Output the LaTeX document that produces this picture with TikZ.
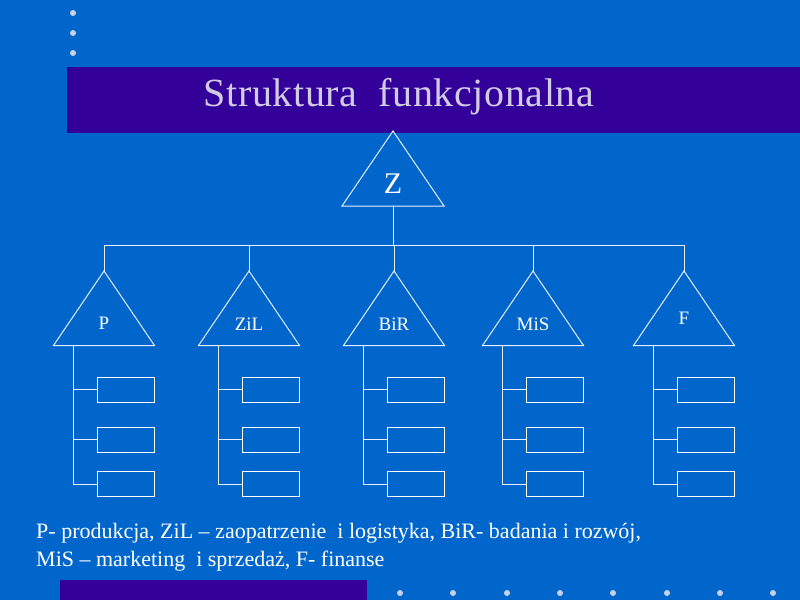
\documentclass[tikz,border=0pt]{standalone}
\usepackage{fontspec}
\setmainfont{Liberation Serif}
\newfontfamily\titlefont[LetterSpace=1.5]{Liberation Serif}
\definecolor{bg}{HTML}{0066CC}
\definecolor{bar}{HTML}{330099}
\definecolor{ttl}{HTML}{D0CCE4}
\definecolor{dotc}{HTML}{C8D2E6}
\definecolor{ln}{HTML}{E6EEFF}
\tikzset{
  tri/.style={draw=ln, line width=1pt, line join=miter},
  conn/.style={draw=ln, line width=1pt},
  subbox/.style={draw=white, line width=1pt, minimum width=57pt, minimum height=25pt, inner sep=0pt},
  lbl/.style={anchor=base, text=white, inner sep=0pt, font=\fontsize{19}{22}\selectfont},
  legendtxt/.style={anchor=base west, text=white, inner sep=0pt, font=\fontsize{22}{28}\selectfont},
  dotmark/.style={fill=dotc}
}
\begin{document}
\begin{tikzpicture}[x=1pt,y=-1pt]
\fill[bg] (0,0) rectangle (800,600);
\useasboundingbox (0,0) rectangle (800,600);
% bars
\fill[bar] (67,67) rectangle (800,133);
\fill[bar] (60,580) rectangle (367,600);
% dots
\foreach \y in {13,33,53} \fill[dotmark] (73,\y) circle (3);
\foreach \x in {400,453,507,560,613,667,720,773} \fill[dotmark] (\x,593) circle (3);
% title
\node[anchor=base, text=ttl, inner sep=0pt, font=\titlefont\fontsize{40}{44}\selectfont] (title) at (399,106) {Struktura\ \ funkcjonalna};
% top triangle Z
\draw[tri] (393,131) -- (444,206) -- (342,206) -- cycle;
\node[anchor=base, text=white, inner sep=0pt, font=\fontsize{30}{34}\selectfont] (Z) at (393,193) {Z};
\coordinate (Z-base) at (393,206);
\coordinate (bus) at (393,245);
% departments
\foreach \c/\n/\ly in {104/P/329, 249/ZiL/330, 394/BiR/330, 533/MiS/330, 684/F/324} {
  \coordinate (\n-apex) at (\c,271);
  \draw[tri] (\n-apex) -- (\c+50.5,345.5) -- (\c-50.5,345.5) -- cycle;
  \node[lbl] (\n) at (\c,\ly) {\n};
  \coordinate (\n-s) at (\c-31,345.5);
  \node[subbox] (\n-b1) at (\c+22,389.5) {};
  \node[subbox] (\n-b2) at (\c+22,439.5) {};
  \node[subbox] (\n-b3) at (\c+22,484) {};
  \draw[conn] (\n-s) |- (\n-b3.west);
  \draw[conn] (\n-s |- \n-b1.west) -- (\n-b1.west);
  \draw[conn] (\n-s |- \n-b2.west) -- (\n-b2.west);
  \draw[conn] (\n-apex) -- (\n-apex |- bus);
}
% bus
\draw[conn] (Z-base) -- (bus);
\draw[conn] (P-apex |- bus) -- (F-apex |- bus);
% legend
\node[legendtxt] (leg1) at (36,538) {P- produkcja, ZiL – zaopatrzenie\ \ i logistyka, BiR- badania i rozwój,};
\node[legendtxt] (leg2) at (36,566) {MiS – marketing\ \ i sprzedaż, F- finanse};
\end{tikzpicture}
\end{document}
